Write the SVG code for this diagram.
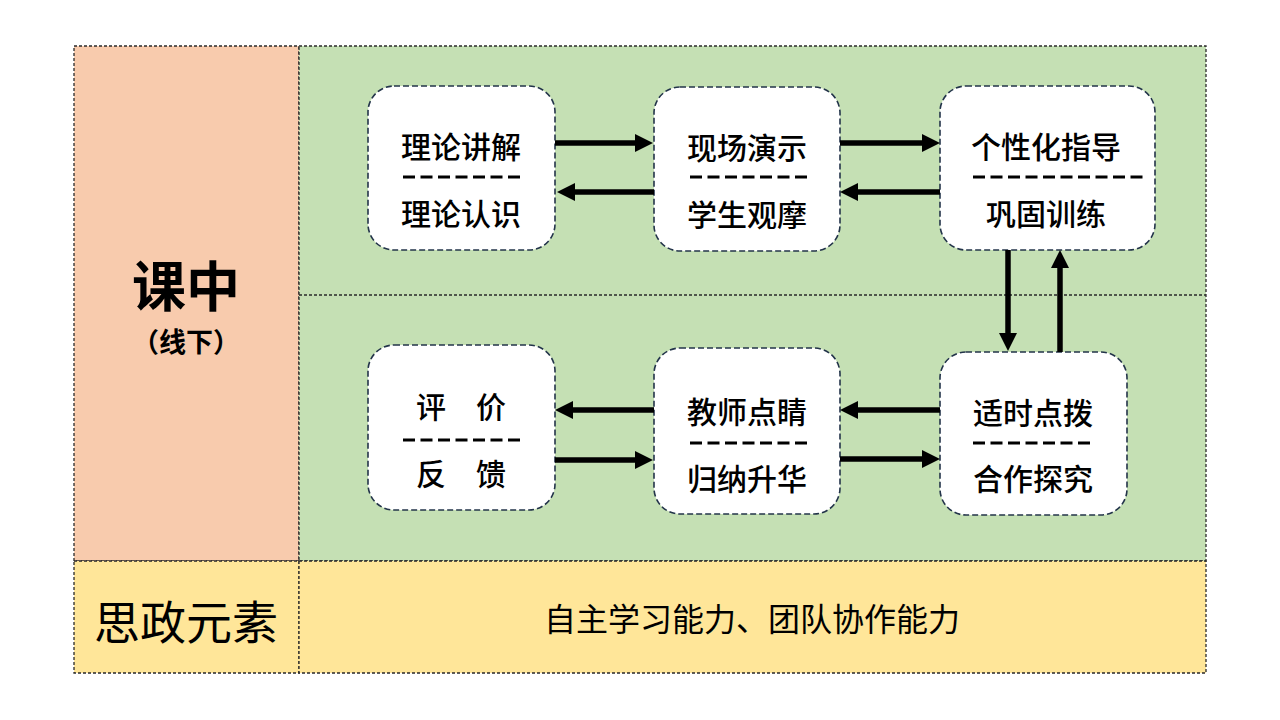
<svg xmlns="http://www.w3.org/2000/svg" width="1280" height="720" viewBox="0 0 1280 720">
<style>
.cell{stroke:#2a2a2a;stroke-width:1.3;stroke-dasharray:3 2;}
.node{fill:#ffffff;stroke:#23344a;stroke-width:1.6;stroke-dasharray:6 3;}
.nt{font-family:"Noto Sans CJK SC","Noto Sans",sans-serif;font-size:30px;font-weight:500;fill:#000;text-anchor:middle;dominant-baseline:central;}
.sep{stroke:#000;stroke-width:3;stroke-dasharray:12 5.5;}
.arr{stroke:#000;stroke-width:5.5;fill:none;marker-end:url(#ah);}
.lbl{font-family:"Noto Sans CJK SC","Noto Sans",sans-serif;fill:#000;text-anchor:middle;dominant-baseline:central;}
</style>
<defs>
<marker id="ah" markerUnits="userSpaceOnUse" markerWidth="18" markerHeight="18" refX="0" refY="9" orient="auto" viewBox="0 0 18 18">
<path d="M0,0 L18,9 L0,18 z" fill="#000"/>
</marker>
</defs>
<rect width="1280" height="720" fill="#ffffff"/>
<g id="table">
<rect class="cell" x="74" y="46" width="225" height="515" fill="#F8CBAD"/>
<rect class="cell" x="299" y="46" width="907" height="515" fill="#C5E0B4"/>
<line class="cell" x1="299" y1="295" x2="1206" y2="295" stroke-width="1"/>
<rect class="cell" x="74" y="561" width="225" height="112" fill="#FFE699"/>
<rect class="cell" x="299" y="561" width="907" height="112" fill="#FFE699"/>
<text class="lbl" x="186" y="283" font-size="54" font-weight="700">课中</text>
<text class="lbl" x="186" y="340" font-size="27" font-weight="700">（线下）</text>
<text class="lbl" x="186" y="619" font-size="46">思政元素</text>
<text class="lbl" x="752" y="617" font-size="32">自主学习能力、团队协作能力</text>
</g>
<g id="n1">
<rect class="node" x="368" y="86" width="187" height="164" rx="26" stroke="#1a1a1a"/>
<text class="nt" x="461" y="145">理论讲解</text>
<line class="sep" x1="403" y1="177" x2="520" y2="177"/>
<text class="nt" x="461" y="212">理论认识</text>
</g>
<g id="n2">
<rect class="node" x="654" y="87" width="186" height="164" rx="26"/>
<text class="nt" x="747" y="146">现场演示</text>
<line class="sep" x1="690" y1="177" x2="807" y2="177"/>
<text class="nt" x="747" y="213">学生观摩</text>
</g>
<g id="n3">
<rect class="node" x="940" y="86" width="215" height="164" rx="26"/>
<text class="nt" x="1046" y="145">个性化指导</text>
<line class="sep" x1="973" y1="177" x2="1143" y2="177"/>
<text class="nt" x="1046" y="212">巩固训练</text>
</g>
<g id="n4">
<rect class="node" x="368" y="345" width="187" height="165" rx="26"/>
<text class="nt" x="461" y="405">评　价</text>
<line class="sep" x1="403" y1="440" x2="520" y2="440"/>
<text class="nt" x="461" y="472">反　馈</text>
</g>
<g id="n5">
<rect class="node" x="654" y="348" width="186" height="166" rx="26"/>
<text class="nt" x="747" y="410">教师点睛</text>
<line class="sep" x1="690" y1="443" x2="807" y2="443"/>
<text class="nt" x="747" y="477">归纳升华</text>
</g>
<g id="n6">
<rect class="node" x="940" y="352" width="187" height="163" rx="26"/>
<text class="nt" x="1033" y="411">适时点拨</text>
<line class="sep" x1="973" y1="443" x2="1090" y2="443"/>
<text class="nt" x="1033" y="477">合作探究</text>
</g>
<g id="connectors">
<line class="arr" x1="555" y1="143" x2="635" y2="143"/>
<line class="arr" x1="654" y1="192" x2="575" y2="192"/>
<line class="arr" x1="840" y1="143" x2="922" y2="143"/>
<line class="arr" x1="940" y1="192" x2="858" y2="192"/>
<line class="arr" x1="1008" y1="250" x2="1008" y2="333"/>
<line class="arr" x1="1060" y1="352" x2="1060" y2="268"/>
<line class="arr" x1="940" y1="410" x2="858" y2="410"/>
<line class="arr" x1="840" y1="459" x2="922" y2="459"/>
<line class="arr" x1="654" y1="410" x2="573" y2="410"/>
<line class="arr" x1="555" y1="460" x2="635" y2="460"/>
</g>
</svg>
